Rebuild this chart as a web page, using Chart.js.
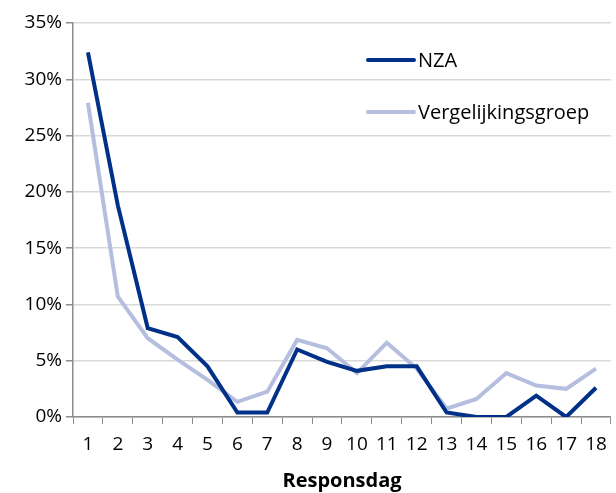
<!DOCTYPE html>
<html>
<head>
<meta charset="utf-8">
<script src="https://cdn.jsdelivr.net/npm/chart.js@4/dist/chart.umd.min.js"></script>
<style>
html,body{margin:0;padding:0;background:#fff;}
#wrap{width:616px;height:493px;position:relative;}
</style>
</head>
<body>
<div id="wrap"><canvas id="c" width="616" height="493"></canvas></div>
<script>
const categories = ['1','2','3','4','5','6','7','8','9','10','11','12','13','14','15','16','17','18'];
const seriesNames = ['NZA', 'Vergelijkingsgroep'];
const nza = [32.4, 18.8, 7.9, 7.1, 4.5, 0.4, 0.4, 6.0, 4.9, 4.1, 4.5, 4.5, 0.4, 0.0, 0.0, 1.9, 0.0, 2.6];
const verg = [27.9, 10.7, 7.0, 5.1, 3.3, 1.35, 2.25, 6.85, 6.1, 3.9, 6.6, 4.3, 0.75, 1.6, 3.9, 2.8, 2.5, 4.3];
const yTicks = [0, 5, 10, 15, 20, 25, 30, 35];
const xTitle = 'Responsdag';

const FONT = '"Open Sans", Lato, sans-serif';
const colors = ['#003087', '#b6bedf'];

const legendPlugin = {
  id: 'customLegend',
  afterDraw(chart) {
    const ctx = chart.ctx;
    const items = [
      {label: seriesNames[0], color: colors[0], y: 60},
      {label: seriesNames[1], color: colors[1], y: 112}
    ];
    ctx.save();
    items.forEach(it => {
      ctx.strokeStyle = it.color;
      ctx.lineWidth = 4;
      ctx.lineCap = 'round';
      ctx.beginPath();
      ctx.moveTo(368, it.y);
      ctx.lineTo(414, it.y);
      ctx.stroke();
      ctx.fillStyle = '#000';
      ctx.font = '20px ' + FONT;
      ctx.textBaseline = 'middle';
      ctx.textAlign = 'left';
      ctx.fillText(it.label, 418, it.y + 1);
    });
    ctx.restore();
  }
};

new Chart(document.getElementById('c'), {
  type: 'line',
  data: {
    labels: categories,
    datasets: [
      {label: seriesNames[1], data: verg, borderColor: colors[1], backgroundColor: colors[1], borderWidth: 4, pointRadius: 0, tension: 0, order: 2},
      {label: seriesNames[0], data: nza, borderColor: colors[0], backgroundColor: colors[0], borderWidth: 4, pointRadius: 0, tension: 0, order: 1}
    ]
  },
  options: {
    responsive: false,
    animation: false,
    devicePixelRatio: 1,
    layout: {padding: {top: 23, right: 4, left: 0, bottom: 0}},
    plugins: {legend: {display: false}, tooltip: {enabled: false}},
    scales: {
      x: {
        offset: true,
        grid: {offset: true, drawOnChartArea: false, drawTicks: true, tickLength: 7, color: '#8c8c8c', tickColor: '#8c8c8c'},
        border: {color: '#8c8c8c', width: 1.5},
        ticks: {color: '#000', font: {family: FONT, size: 19}, padding: 9, maxRotation: 0, autoSkip: false},
        title: {display: true, text: xTitle, color: '#000', font: {family: FONT, size: 20, weight: 'bold'}, padding: {top: 0, bottom: 0}},
        afterFit: s => { s.height = 76; }
      },
      y: {
        min: 0, max: 35,
        afterBuildTicks: s => { s.ticks = yTicks.map(v => ({value: v})); },
        grid: {color: '#d9d9d9', lineWidth: 1.5, tickLength: 7, tickColor: '#8c8c8c'},
        border: {color: '#8c8c8c', width: 1.5},
        ticks: {color: '#000', font: {family: FONT, size: 19}, padding: 4, callback: v => v + '%'},
        afterFit: s => { s.width = 73; }
      }
    }
  },
  plugins: [legendPlugin]
});
</script>
</body>
</html>
